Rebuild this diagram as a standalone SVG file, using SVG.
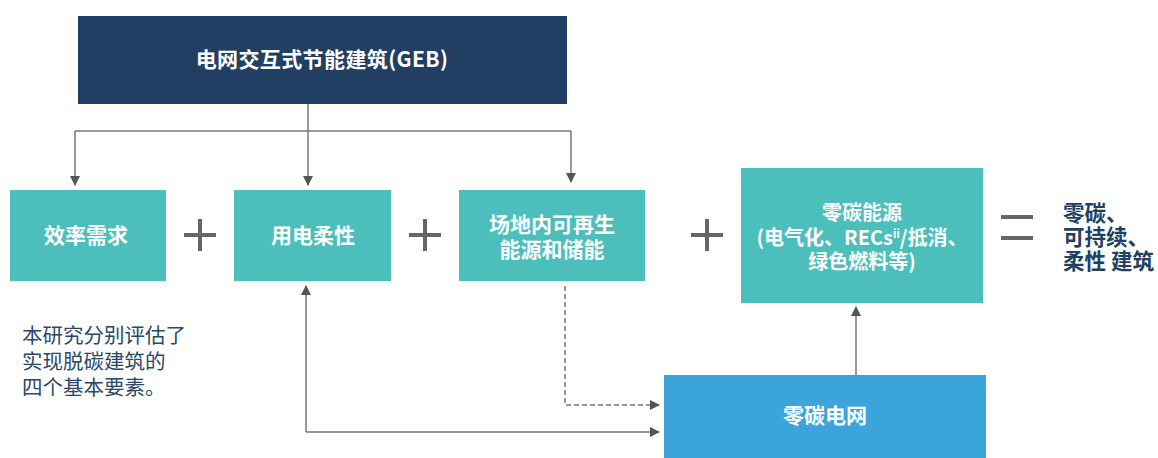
<svg xmlns="http://www.w3.org/2000/svg" width="1158" height="458" viewBox="0 0 1158 458">
<defs>
<style>
.t{font-family:"Noto Sans CJK SC","Noto Sans",sans-serif;font-weight:bold;font-size:21px;fill:#fff;text-anchor:middle}
.s{font-size:20px}
.teal{fill:#4cbfbd}
.ln{stroke:#777;stroke-width:1.5;fill:none}
.dash{stroke:#777;stroke-width:1.5;fill:none;stroke-dasharray:5 3}
.op{stroke:#666;stroke-width:4;fill:none}
.side{font-family:"Noto Sans CJK SC",sans-serif;font-size:20.5px;fill:#2a4868}
.res{font-family:"Noto Sans CJK SC",sans-serif;font-size:21.5px;font-weight:bold;fill:#213f63}
</style>
<marker id="ah" viewBox="0 0 10 10" refX="9" refY="5" markerWidth="10" markerHeight="10" markerUnits="userSpaceOnUse" orient="auto">
<path d="M0,0 L10,5 L0,10 z" fill="#555"/>
</marker>
</defs>
<g id="connectors">
<path class="ln" d="M308,104 V131"/>
<path class="ln" d="M75,131 H571"/>
<path class="ln" d="M75,131 V185" marker-end="url(#ah)"/>
<path class="ln" d="M308,131 V185" marker-end="url(#ah)"/>
<path class="ln" d="M571,131 V182" marker-end="url(#ah)"/>
<path class="ln" d="M306,432 V286" marker-end="url(#ah)"/>
<path class="ln" d="M306,432 H659" marker-end="url(#ah)"/>
<path class="dash" d="M565,286 V405 H659" marker-end="url(#ah)"/>
<path class="ln" d="M856,375 V307" marker-end="url(#ah)"/>
</g>
<g id="geb">
<rect x="78" y="16" width="489" height="88" fill="#213f63"/>
<text class="t" x="322" y="67" letter-spacing="0.4">电网交互式节能建筑(GEB)</text>
</g>
<g id="efficiency">
<rect class="teal" x="10" y="190" width="156" height="91"/>
<text class="t" x="86" y="243">效率需求</text>
</g>
<g id="flexibility">
<rect class="teal" x="234" y="190" width="157" height="91"/>
<text class="t" x="313" y="243">用电柔性</text>
</g>
<g id="onsite">
<rect class="teal" x="459" y="190" width="186" height="91"/>
<text class="t" x="552" y="232">场地内可再生</text>
<text class="t" x="552" y="257">能源和储能</text>
</g>
<g id="zeroenergy">
<rect class="teal" x="741" y="168" width="242" height="135"/>
<text class="t s" x="862" y="220">零碳能源</text>
<text class="t s" x="862" y="245">(电气化、RECs<tspan font-size="11" dy="-7">ii</tspan><tspan dy="7">/抵消、</tspan></text>
<text class="t s" x="862" y="269">绿色燃料等)</text>
</g>
<g id="grid">
<rect x="664" y="375" width="322" height="83" fill="#3ba4db"/>
<text class="t" x="825" y="423">零碳电网</text>
</g>
<g id="ops">
<path class="op" d="M184,235 H216 M200,219 V251"/>
<path class="op" d="M409,235 H441 M425,219 V251"/>
<path class="op" d="M691,235 H723 M707,219 V251"/>
<path class="op" d="M1001,217 H1033 M1001,238 H1033"/>
</g>
<g id="result">
<text class="res" x="1063" y="221">零碳、</text>
<text class="res" x="1063" y="245">可持续、</text>
<text class="res" x="1063" y="269">柔性 建筑</text>
</g>
<g id="note">
<text class="side" x="22" y="343">本研究分别评估了</text>
<text class="side" x="22" y="369">实现脱碳建筑的</text>
<text class="side" x="22" y="395">四个基本要素。</text>
</g>
</svg>
